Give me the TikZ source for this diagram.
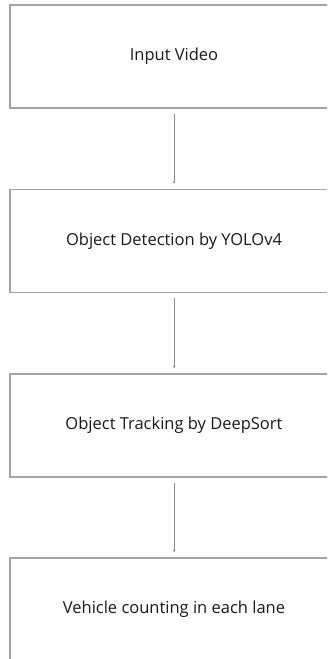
\documentclass[tikz,border=0pt]{standalone}
\usepackage{fontspec}
\setmainfont{Open Sans}
\usetikzlibrary{arrows.meta}
\definecolor{boxgray}{HTML}{A3A3A3}
\definecolor{linegray}{HTML}{8A8A8A}
\begin{document}
\begin{tikzpicture}[x=1pt,y=1pt,
  stagebox/.style={draw=boxgray, line width=1.6pt, minimum width=327.5pt, minimum height=103pt,
    inner sep=0pt, font=\fontsize{16.5}{20}\selectfont, text=black!90},
  flowarrow/.style={draw=linegray, line width=0.9pt, -{Stealth[length=2.5pt,width=2.5pt]},
    shorten <=5pt, shorten >=5pt}]
\clip (0,0) rectangle (327,-659);
\useasboundingbox (0,0) rectangle (327,-659);
\node[stagebox] (a) at (174,-56.5) {Input Video};
\node[stagebox] (b) at (174,-241) {Object Detection by YOLOv4};
\node[stagebox] (c) at (174,-425.5) {Object Tracking by DeepSort};
\node[stagebox] (d) at (174,-609.5) {Vehicle counting in each lane};
\draw[flowarrow] (a) -- (b);
\draw[flowarrow] (b) -- (c);
\draw[flowarrow] (c) -- (d);
\end{tikzpicture}
\end{document}
